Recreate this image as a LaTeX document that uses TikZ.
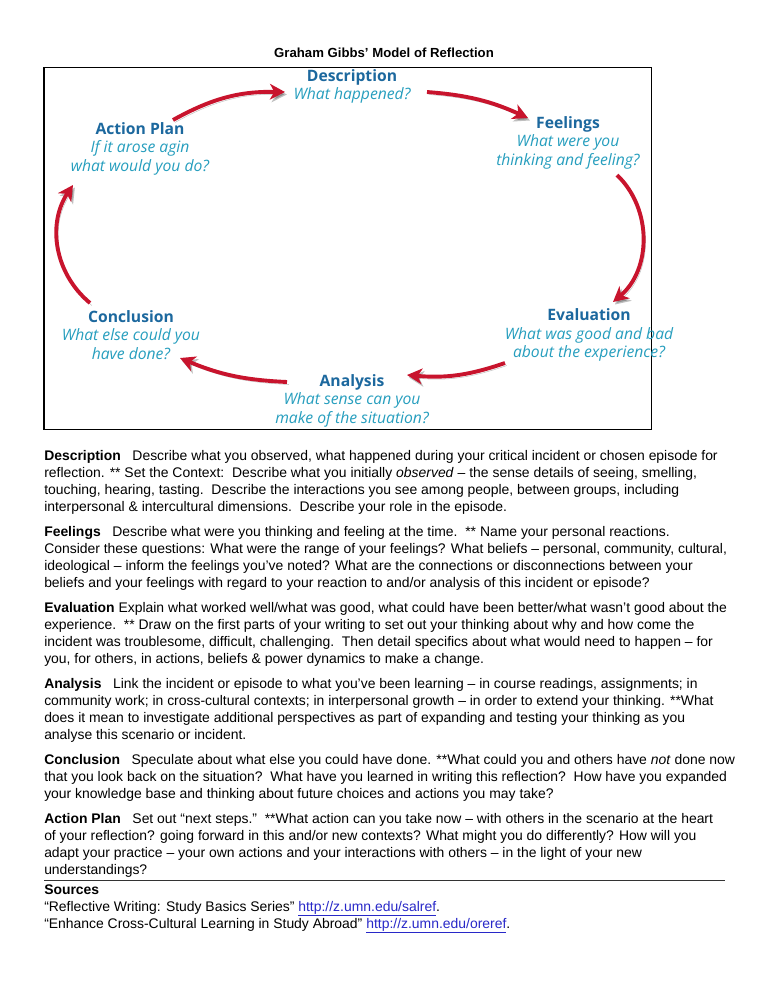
\documentclass[tikz,border=0pt]{standalone}
\usepackage{fontspec}
\setmainfont{Liberation Sans}
\newfontfamily\diagfont{Open Sans}
\usetikzlibrary{arrows.meta}
\definecolor{stageblue}{RGB}{28,104,158}
\definecolor{questteal}{RGB}{38,158,190}
\definecolor{cycred}{RGB}{200,20,45}
\definecolor{linkblue}{RGB}{40,40,200}
\newcommand{\stagehead}[1]{\textcolor{stageblue}{\bfseries #1}}
\newcommand{\stageask}[1]{\textcolor{questteal}{\itshape #1}}
\newcommand{\weblink}[1]{\textcolor{linkblue}{\underline{#1}}}
\begin{document}
\begin{tikzpicture}[x=0.797pt, y=0.797pt,
	stage/.style={align=center, inner sep=0pt, font=\diagfont\fontsize{12.5}{14.8}\selectfont},
	cyc/.style={line width=3.1pt, draw=cycred, -{Stealth[length=12pt,width=12.5pt,inset=3.5pt]},
		preaction={draw=black, opacity=.25, transform canvas={shift={(1.5pt,-2pt)}}}},
	para/.style={anchor=base west, align=left, inner sep=0pt, font=\fontsize{11.1}{13.55}\selectfont}]
	\useasboundingbox (0,0) rectangle (768,-994);
	\fill[white] (0,0) rectangle (768,-994);
	% title and frame
	\node[font=\bfseries\fontsize{10.5}{12}\selectfont] (title) at (384,-53) {Graham Gibbs’ Model of Reflection};
	\draw[line width=0.8pt] (44,-67) rectangle (651,-429);
	% stages of the cycle
	\node[stage] (desc) at (352,-86.5) {\stagehead{Description}\\ \stageask{What happened?}};
	\node[stage] (feel) at (568,-142.5) {\stagehead{Feelings}\\ \stageask{What were you}\\ \stageask{thinking and feeling?}};
	\node[stage] (eval) at (589,-335) {\stagehead{Evaluation}\\ \stageask{What was good and bad}\\ \stageask{about the experience?}};
	\node[stage] (anal) at (352,-400.5) {\stagehead{Analysis}\\ \stageask{What sense can you}\\ \stageask{make of the situation?}};
	\node[stage] (concl) at (131,-335) {\stagehead{Conclusion}\\ \stageask{What else could you}\\ \stageask{have done?}};
	\node[stage] (plan) at (140,-148.5) {\stagehead{Action Plan}\\ \stageask{If it arose agin}\\ \stageask{what would you do?}};
	% arrows
	\draw[cyc] ([shift={(33,28.5)}]plan.center) to[bend left=15] ([shift={(-67,-5.5)}]desc.center);
	\draw[cyc] ([shift={(75,-5.5)}]desc.center) to[bend left=10] ([shift={(-40,24.5)}]feel.center);
	\draw[cyc] ([shift={(49,-32.5)}]feel.center) to[bend left=48] ([shift={(24,33)}]eval.center);
	\draw[cyc] ([shift={(-84,-28)}]eval.center) to[bend left=12] ([shift={(55,25.5)}]anal.center);
	\draw[cyc] ([shift={(-65,18.5)}]anal.center) to[bend left=10] ([shift={(49,-23)}]concl.center);
	\draw[cyc] ([shift={(-41,32)}]concl.center) to[bend left=42] ([shift={(-67,-36.5)}]plan.center);
	% text (anchored on the last line)
	\node[para] (pdesc) at (44,-511) {\textbf{Description}\ \ \ Describe what you observed, what happened during your critical incident or chosen episode for\\
		reflection. ** Set the Context:\ \ Describe what you initially \textit{observed} – the sense details of seeing, smelling,\\
		touching, hearing, tasting.\ \ Describe the interactions you see among people, between groups, including\\
		interpersonal \& intercultural dimensions.\ \ Describe your role in the episode.};
	\node[para] (pfeel) at (44,-587) {\textbf{Feelings}\ \ \ Describe what were you thinking and feeling at the time.\ \ ** Name your personal reactions.\\
		Consider these questions: What were the range of your feelings? What beliefs – personal, community, cultural,\\
		ideological – inform the feelings you’ve noted? What are the connections or disconnections between your\\
		beliefs and your feelings with regard to your reaction to and/or analysis of this incident or episode?};
	\node[para] (peval) at (44,-663) {\textbf{Evaluation} Explain what worked well/what was good, what could have been better/what wasn’t good about the\\
		experience.\ \ ** Draw on the first parts of your writing to set out your thinking about why and how come the\\
		incident was troublesome, difficult, challenging.\ \ Then detail specifics about what would need to happen – for\\
		you, for others, in actions, beliefs \& power dynamics to make a change.};
	\node[para] (panal) at (44,-739) {\textbf{Analysis}\ \ \ Link the incident or episode to what you’ve been learning – in course readings, assignments; in\\
		community work; in cross-cultural contexts; in interpersonal growth – in order to extend your thinking. **What\\
		does it mean to investigate additional perspectives as part of expanding and testing your thinking as you\\
		analyse this scenario or incident.};
	\node[para] (pconcl) at (44,-798) {\textbf{Conclusion}\ \ \ Speculate about what else you could have done. **What could you and others have \textit{not} done now\\
		that you look back on the situation?\ \ What have you learned in writing this reflection?\ \ How have you expanded\\
		your knowledge base and thinking about future choices and actions you may take?};
	\node[para] (pplan) at (44,-874) {\textbf{Action Plan}\ \ \ Set out “next steps.”\ \ **What action can you take now – with others in the scenario at the heart\\
		of your reflection? going forward in this and/or new contexts? What might you do differently? How will you\\
		adapt your practice – your own actions and your interactions with others – in the light of your new\\
		understandings?};
	% sources
	\draw[line width=0.6pt, black!80] (44,-880) -- (725,-880);
	\node[para] (src) at (44,-928) {\textbf{Sources}\\
		“Reflective Writing: Study Basics Series” \weblink{http://z.umn.edu/salref}.\\
		“Enhance Cross-Cultural Learning in Study Abroad” \weblink{http://z.umn.edu/oreref}.};
\end{tikzpicture}
\end{document}
